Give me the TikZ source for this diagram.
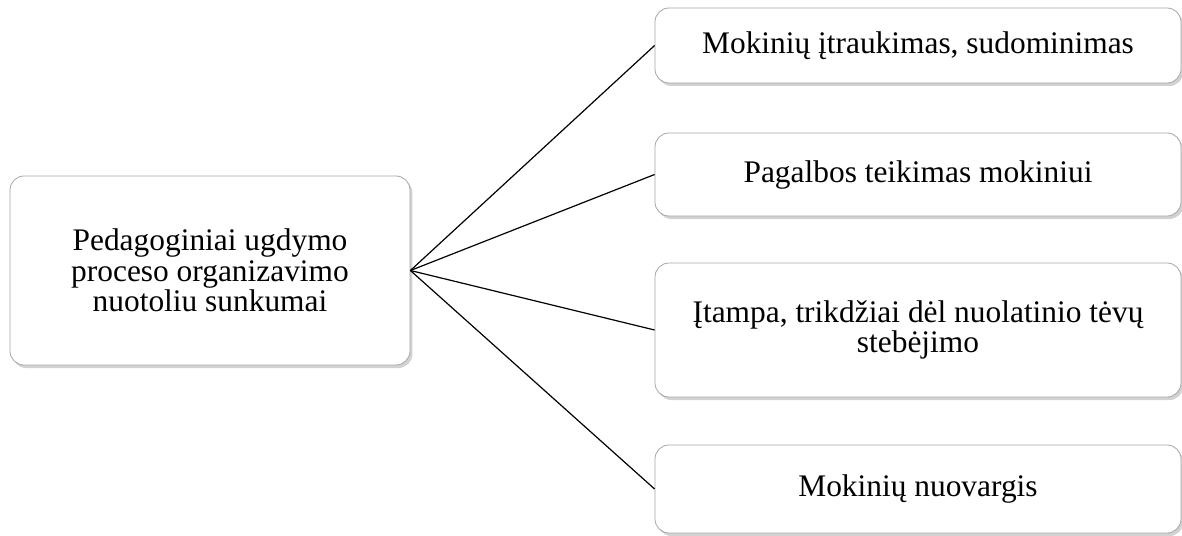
\documentclass[tikz,border=0pt]{standalone}
\usepackage{fontspec}
\setmainfont{Liberation Serif}
\usetikzlibrary{shadows}

\tikzset{
  box/.style={draw=gray!70, rounded corners=7pt, fill=white, align=center,
    font=\fontsize{15.7}{15.2}\selectfont,
    drop shadow={shadow xshift=1.2pt, shadow yshift=-1.5pt, fill=black!35}},
  link/.style={draw=black, line width=0.6pt},
}

\begin{document}
\begin{tikzpicture}[x=0.5pt, y=-0.5pt]
    \useasboundingbox (0,0) rectangle (1182,535);
    % pagrindinis
    \node[box, minimum width=200pt, minimum height=94.5pt] (main) at (210,270.5)
        {Pedagoginiai ugdymo\\proceso organizavimo\\nuotoliu sunkumai};
    % sunkumai
    \node[box, minimum width=263pt, minimum height=37.5pt] (itrauk) at (918,45.5)
        {Mokinių įtraukimas, sudominimas};
    \node[box, minimum width=263pt, minimum height=41.5pt] (pagalba) at (918,174.5)
        {Pagalbos teikimas mokiniui};
    \node[box, minimum width=263pt, minimum height=67pt] (itampa) at (918,330)
        {Įtampa, trikdžiai dėl nuolatinio tėvų\\stebėjimo};
    \node[box, minimum width=263pt, minimum height=44pt] (nuovargis) at (918,489)
        {Mokinių nuovargis};

    \draw[link] (main.east) -- (itrauk.west);
    \draw[link] (main.east) -- (pagalba.west);
    \draw[link] (main.east) -- (itampa.west);
    \draw[link] (main.east) -- (nuovargis.west);
\end{tikzpicture}
\end{document}
